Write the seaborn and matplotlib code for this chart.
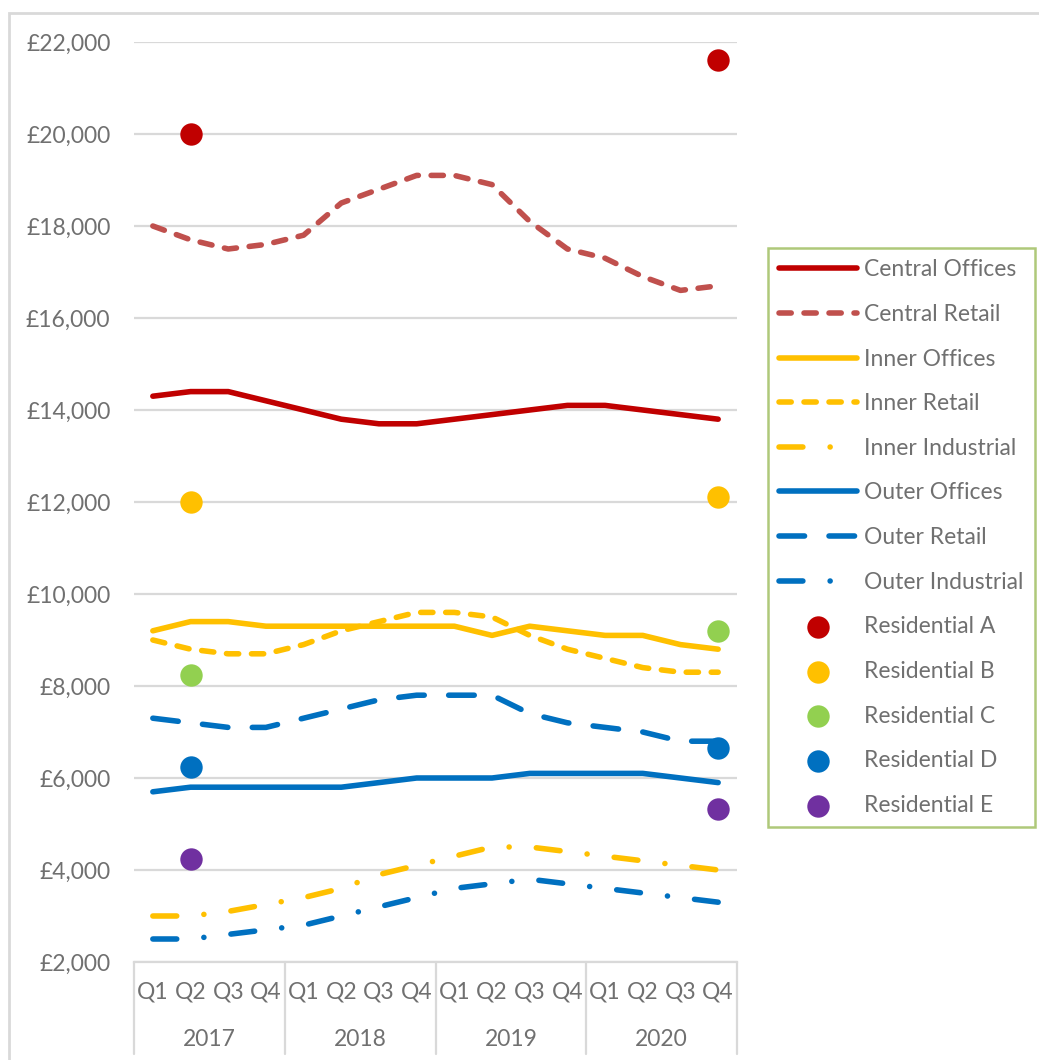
import numpy as np
import pandas as pd
import matplotlib
matplotlib.use("Agg")
import matplotlib.pyplot as plt
import seaborn as sns
from matplotlib.ticker import FuncFormatter
from matplotlib.patches import Rectangle
import matplotlib.transforms as mtransforms

# ==============================
# Data
# ==============================

years = ["2017", "2018", "2019", "2020"]
quarters = ["Q1", "Q2", "Q3", "Q4"]
tick_labels = quarters * len(years)

central_offices = [14300, 14400, 14400, 14200, 14000, 13800, 13700, 13700,
                   13800, 13900, 14000, 14100, 14100, 14000, 13900, 13800]
central_retail = [18000, 17700, 17500, 17600, 17800, 18500, 18800, 19100,
                  19100, 18900, 18100, 17500, 17300, 16900, 16600, 16700]
inner_offices = [9200, 9400, 9400, 9300, 9300, 9300, 9300, 9300,
                 9300, 9100, 9300, 9200, 9100, 9100, 8900, 8800]
inner_retail = [9000, 8800, 8700, 8700, 8900, 9200, 9400, 9600,
                9600, 9500, 9100, 8800, 8600, 8400, 8300, 8300]
inner_industrial = [3000, 3000, 3100, 3250, 3400, 3600, 3900, 4100,
                    4300, 4500, 4500, 4400, 4300, 4200, 4100, 4000]
outer_offices = [5700, 5800, 5800, 5800, 5800, 5800, 5900, 6000,
                 6000, 6000, 6100, 6100, 6100, 6100, 6000, 5900]
outer_retail = [7300, 7200, 7100, 7100, 7300, 7500, 7700, 7800,
                7800, 7800, 7400, 7200, 7100, 7000, 6800, 6800]
outer_industrial = [2500, 2500, 2600, 2700, 2800, 3000, 3200, 3400,
                    3600, 3700, 3800, 3700, 3600, 3500, 3400, 3300]

# residential points only at 2017 Q2 and 2020 Q4
res_idx = [1, 15]
res_a = [20000, 21600]
res_b = [12000, 12100]
res_c = [8250, 9200]
res_d = [6250, 6650]
res_e = [4230, 5330]

# ==============================
# Styles
# ==============================

RED = "#C00000"
RED_LIGHT = "#C0504D"
YELLOW = "#FFC000"
BLUE = "#0070C0"
GREEN = "#92D050"
PURPLE = "#7030A0"

SOLID = "-"
DASH = (0, (2.2, 2.3))
LONG_DASH = (0, (4.6, 4.4))
DASH_DOT = (0, (4.3, 4.9, 0.01, 4.9))

lines = [
    ("Central Offices", central_offices, RED, SOLID),
    ("Central Retail", central_retail, RED_LIGHT, DASH),
    ("Inner Offices", inner_offices, YELLOW, SOLID),
    ("Inner Retail", inner_retail, YELLOW, DASH),
    ("Inner Industrial", inner_industrial, YELLOW, DASH_DOT),
    ("Outer Offices", outer_offices, BLUE, SOLID),
    ("Outer Retail", outer_retail, BLUE, LONG_DASH),
    ("Outer Industrial", outer_industrial, BLUE, DASH_DOT),
]

dots = [
    ("Residential A", res_a, RED),
    ("Residential B", res_b, YELLOW),
    ("Residential C", res_c, GREEN),
    ("Residential D", res_d, BLUE),
    ("Residential E", res_e, PURPLE),
]

sns.set_style("white")
plt.rcParams["font.family"] = ["Lato", "DejaVu Sans"]
plt.rcParams["lines.dash_capstyle"] = "round"
plt.rcParams["lines.solid_capstyle"] = "round"

TEXT = "#707070"
GRID = "#D9D9D9"
FS = 16.5

fig = plt.figure(figsize=(10.39, 10.60), dpi=100)
ax = fig.add_axes([134 / 1039, 1 - 962 / 1060, (737 - 134) / 1039, (962 - 42) / 1060])

x = np.arange(len(tick_labels))

for name, vals, color, ls in lines:
    sns.lineplot(x=x, y=vals, ax=ax, color=color, linewidth=4,
                 linestyle=ls, label=name, zorder=3)

for name, vals, color in dots:
    sns.scatterplot(x=res_idx, y=vals, ax=ax, color=color, s=260,
                    linewidth=0, label=name, zorder=4)

# ==============================
# Axes
# ==============================

ax.set_xlim(-0.5, len(tick_labels) - 0.5)
ax.set_ylim(2000, 22000)
ax.set_yticks(np.arange(2000, 22001, 2000))
ax.yaxis.set_major_formatter(FuncFormatter(lambda v, p: f"£{v:,.0f}"))
ax.yaxis.grid(True, color=GRID, linewidth=1.6)
ax.set_axisbelow(True)

ax.set_xticks(x)
ax.set_xticklabels(tick_labels)
ax.tick_params(axis="both", length=0, labelsize=FS, colors=TEXT)
ax.tick_params(axis="y", pad=17)
ax.tick_params(axis="x", pad=14)
ax.set_xlabel("")
ax.set_ylabel("")

for s in ["top", "right", "left"]:
    ax.spines[s].set_visible(False)
ax.spines["bottom"].set_color(GRID)
ax.spines["bottom"].set_linewidth(1.6)

# year groups under the quarter labels
trans = mtransforms.blended_transform_factory(ax.transData, ax.transAxes)
for i, yr in enumerate(years):
    ax.text(i * 4 + 1.5, -0.084, yr, transform=trans, ha="center", va="center",
            fontsize=FS, color=TEXT)
for b in np.arange(len(years) + 1) * 4 - 0.5:
    ax.plot([b, b], [0, -0.1], transform=trans, color=GRID, linewidth=1.6,
            clip_on=False)

# ==============================
# Legend
# ==============================

leg = ax.legend(loc="upper left", bbox_to_anchor=(768 / 1039, 1 - 248 / 1060),
                bbox_transform=fig.transFigure, borderaxespad=0, fontsize=FS,
                frameon=True, fancybox=False, handlelength=3.4, handletextpad=0.3,
                labelspacing=1.03, borderpad=0.5, labelcolor=TEXT)
leg.get_frame().set_edgecolor("#9BBB59")
leg.get_frame().set_linewidth(1.8)

# outer chart frame
fig.patches.append(Rectangle((9 / 1039, -0.1), 1.2, 1 - 13 / 1060 + 0.1,
                             transform=fig.transFigure, fill=False,
                             edgecolor=GRID, linewidth=2))

fig.savefig("out.png", dpi=100, facecolor="white")
